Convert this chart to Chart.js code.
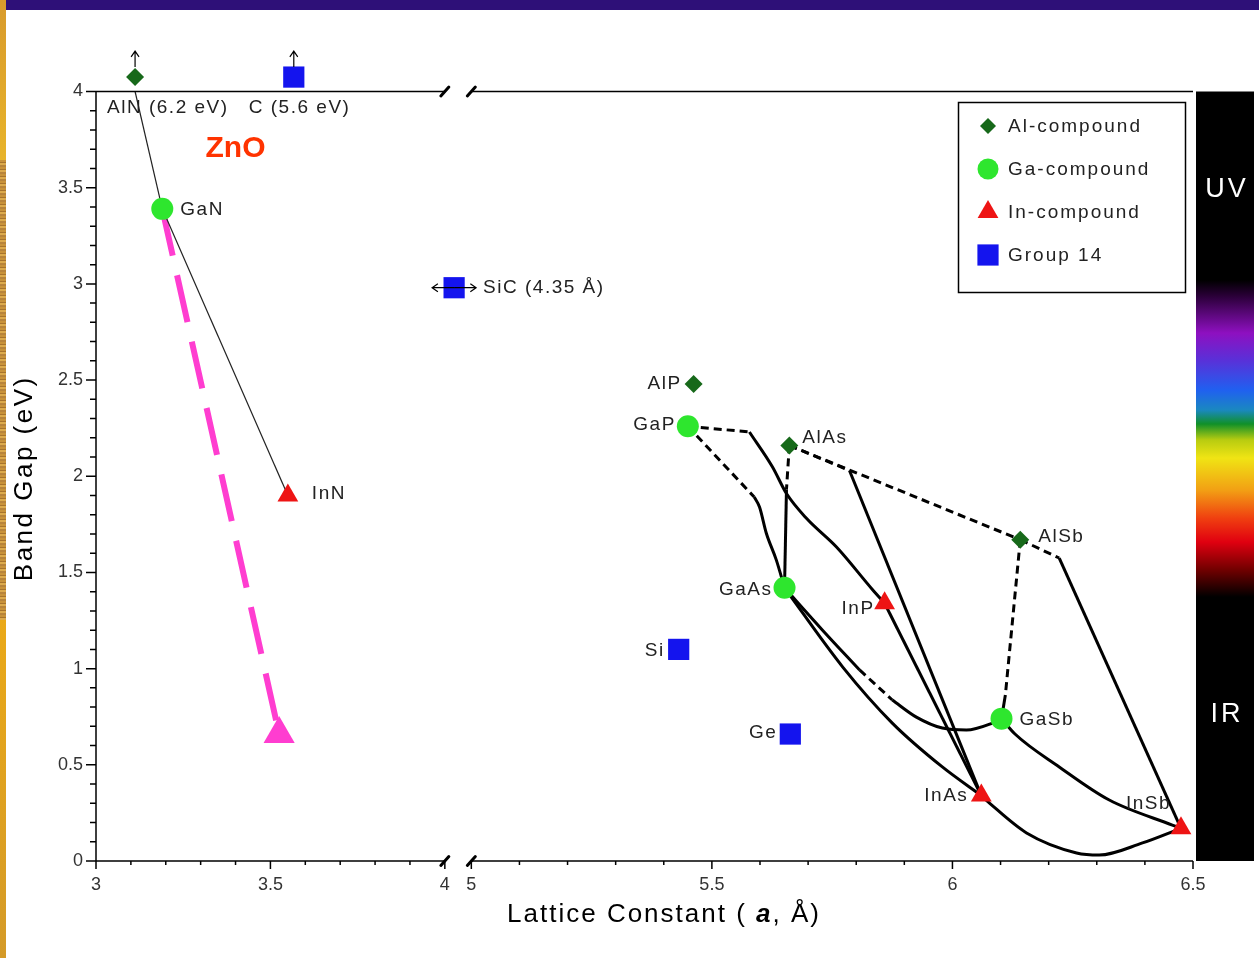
<!DOCTYPE html>
<html lang="en">
<head>
<meta charset="utf-8">
<title>Band gap vs. lattice constant</title>
<script src="https://cdn.jsdelivr.net/npm/chart.js@4.4.1/dist/chart.umd.min.js"></script>
<style>
  html, body { margin: 0; padding: 0; background: #fff; }
  body { position: relative; width: 1259px; height: 958px; overflow: hidden; }
  #chart { position: absolute; left: 0; top: 0; }
  .band { position: absolute; left: 0; top: 0; width: 1259px; height: 10px; background: #2e1078; }
  .strip { position: absolute; left: 0; width: 6px; }
  .strip.top { top: 0; height: 160px; background: linear-gradient(#d89a2c, #e8b42a); }
  .strip.mid { top: 160px; height: 460px;
    background: repeating-linear-gradient(180deg, #c8923a 0 2px, #a8742c 2px 3px, #dcaa4c 3px 5px, #b8843a 5px 7px); }
  .strip.bot { top: 620px; height: 338px; background: linear-gradient(#eaa918, #d49a28); }
</style>
</head>
<body>
<div class="band"></div>
<div class="strip top"></div><div class="strip mid"></div><div class="strip bot"></div>
<canvas id="chart" width="1259" height="958"></canvas>
<script>
// Band gap (eV) against lattice constant (Å): III-V binaries, group 14 solids and alloy tie lines

const Y_MAX = 4;
const OFF_SCALE_Y = Y_MAX + 0.075;   // off-scale gaps sit just above the frame

const xMajorTicks = [3, 3.5, 4, 5, 5.5, 6, 6.5];
const yMajorTicks = [0, 0.5, 1, 1.5, 2, 2.5, 3, 3.5, 4];

// binaries, grouped by cation
const alNames = ['AlN', 'AlP', 'AlAs', 'AlSb'];
const alLattice = [3.112, 5.462, 5.661, 6.141];
const alGap = [6.2, 2.48, 2.16, 1.67];

const gaNames = ['GaN', 'GaP', 'GaAs', 'GaSb'];
const gaLattice = [3.19, 5.45, 5.651, 6.102];
const gaGap = [3.39, 2.26, 1.42, 0.74];

const inNames = ['InN', 'InP', 'InAs', 'InSb'];
const inLattice = [3.55, 5.859, 6.06, 6.475];
const inGap = [1.9, 1.34, 0.34, 0.17];

const g14Names = ['C', 'SiC', 'Si', 'Ge'];
const g14Lattice = [3.567, 4.35, 5.431, 5.663];
const g14Gap = [5.6, 2.98, 1.1, 0.66];

// the pink marker and its dashed tie line from GaN
const highlightLattice = [3.525];
const highlightGap = [0.66];
const highlightNote = 'ZnO';

// alloy tie lines as [lattice, gap] pairs; *Ind = indirect-gap branch (dashed)
const AlGaN = [[3.112, 4.0], [3.19, 3.39]];
const InGaN = [[3.19, 3.39], [3.55, 1.9]];
const highlightTie = [[3.19, 3.39], [3.525, 0.66]];
const GaInPInd = [[5.45, 2.26], [5.578, 2.23]];
const GaInP = [[5.578, 2.23], [5.626, 2.048], [5.655, 1.91], [5.697, 1.78], [5.759, 1.632], [5.834, 1.41], [5.859, 1.34]];
const GaAsPInd = [[5.45, 2.26], [5.588, 1.892]];
const GaAsP = [[5.588, 1.892], [5.599, 1.84], [5.613, 1.705], [5.634, 1.564], [5.651, 1.42]];
const AlGaAsInd = [[5.661, 2.16], [5.655, 1.93]];
const AlGaAs = [[5.655, 1.93], [5.651, 1.42]];
const AlAsSbInd = [[5.661, 2.16], [6.141, 1.67]];
const AlInAsInd = [[5.661, 2.16], [5.786, 2.03]];
const AlInAs = [[5.786, 2.03], [6.06, 0.34]];
const InAsP = [[5.859, 1.34], [6.06, 0.34]];
const InGaAs = [[5.651, 1.42], [5.772, 1.008], [5.875, 0.717], [5.979, 0.489], [6.06, 0.34]];
const GaAsSbA = [[5.651, 1.42], [5.73, 1.2], [5.807, 0.993]];
const GaAsSbInd = [[5.807, 0.993], [5.875, 0.837]];
const GaAsSbB = [[5.875, 0.837], [5.925, 0.748], [5.979, 0.691], [6.029, 0.681], [6.083, 0.717], [6.102, 0.74]];
const AlGaSbInd = [[6.141, 1.67], [6.11, 0.863]];
const AlGaSb = [[6.11, 0.863], [6.102, 0.74]];
const AlInSbInd = [[6.141, 1.67], [6.222, 1.575]];
const AlInSb = [[6.222, 1.575], [6.475, 0.17]];
const GaInSb = [[6.102, 0.74], [6.13, 0.66], [6.222, 0.489], [6.326, 0.317], [6.457, 0.187], [6.475, 0.17]];
const InAsSb = [[6.06, 0.34], [6.077, 0.301], [6.154, 0.146], [6.258, 0.042], [6.305, 0.031], [6.395, 0.094], [6.475, 0.17]];

// ---- styling ----
const FONT = '"Liberation Sans", Arial, Helvetica, sans-serif';
const PINK = '#ff3dd0';

// x axis is broken between 4 and 5 Å; spans are relative widths of each piece
const xPieces = [
  { from: 3, to: 4, span: 349 },
  { from: 4, to: 5, span: 26.5 },
  { from: 5, to: 6.5, span: 722 }
];
const xTickRanges = [[3, 4], [5, 6.5]];

// label offsets from the marker: [dx, dy, align]
const labelPlacement = {
  AlN: [-28, 31, 'left'], C: [-45, 31, 'left'],
  GaN: [18, 1, 'left'], InN: [24, -2, 'left'], SiC: [29, 0, 'left'],
  AlP: [-14, 0, 'right'], GaP: [-14, -1, 'right'],
  AlAs: [13, -8, 'left'], AlSb: [18, -3, 'left'],
  GaAs: [-14, 2, 'right'], InP: [-12, 6, 'right'],
  Si: [-16, 1, 'right'], GaSb: [18, 1, 'left'],
  Ge: [-15, -1, 'right'], InAs: [-15, 0, 'right'],
  InSb: [-12, -25, 'right']
};
const noteAnchor = { x: 3.40, y: 3.70 };

const spectrumStops = [
  [280, '#000000'], [296, '#2a0038'], [333, '#8e10c0'], [360, '#5a30d8'], [390, '#2060f0'],
  [410, '#1a88c0'], [424, '#109028'], [440, '#b8cc10'], [458, '#f0e414'], [490, '#f2a014'],
  [518, '#f04010'], [542, '#e00010'], [570, '#700000'], [597, '#000000']
];

// linear scale with a gap: each piece gets its own share of the axis length
class BrokenLinearScale extends Chart.LinearScale {
  buildTicks() {
    const step = this.options.ticks.stepSize || 0.1;
    const ticks = [];
    xTickRanges.forEach(([lo, hi]) => {
      for (let v = lo; v <= hi + 1e-9; v += step) {
        ticks.push({ value: Math.round(v * 1000) / 1000 });
      }
    });
    this.start = this.min;
    this.end = this.max;
    return ticks;
  }
  _decimalFor(value) {
    const total = xPieces.reduce((s, p) => s + p.span, 0);
    let acc = 0;
    for (let i = 0; i < xPieces.length; i++) {
      const p = xPieces[i];
      if (value <= p.to || i === xPieces.length - 1) {
        return (acc + (value - p.from) / (p.to - p.from) * p.span) / total;
      }
      acc += p.span;
    }
    return 0;
  }
  getPixelForValue(value) {
    if (value === null || isNaN(value)) return NaN;
    return this.getPixelForDecimal(this._decimalFor(value));
  }
  getValueForPixel(pixel) {
    const total = xPieces.reduce((s, p) => s + p.span, 0);
    let pos = this.getDecimalForPixel(pixel) * total;
    for (const p of xPieces) {
      if (pos <= p.span) return p.from + pos / p.span * (p.to - p.from);
      pos -= p.span;
    }
    return this.max;
  }
}
BrokenLinearScale.id = 'brokenLinear';
BrokenLinearScale.defaults = Chart.LinearScale.defaults;
Chart.register(BrokenLinearScale);

const groups = [
  { label: 'Al-compound', names: alNames, lattice: alLattice, gap: alGap, style: 'rectRot', color: '#17691a', radius: 9, legendRadius: 8 },
  { label: 'Ga-compound', names: gaNames, lattice: gaLattice, gap: gaGap, style: 'circle', color: '#2ee62e', radius: 11, legendRadius: 10.5 },
  { label: 'In-compound', names: inNames, lattice: inLattice, gap: inGap, style: 'triangle', color: '#ee1414', radius: 12, legendRadius: 12 },
  { label: 'Group 14', names: g14Names, lattice: g14Lattice, gap: g14Gap, style: 'rect', color: '#1414ee', radius: 15, legendRadius: 15 }
];

const isMajor = (v, list) => list.some(m => Math.abs(m - v) < 1e-6);

// the transparent border only widens the in-area test so markers above the frame still draw
const pointSets = groups.map(g => ({
  type: 'scatter',
  label: g.label,
  data: g.lattice.map((a, i) => ({ x: a, y: Math.min(g.gap[i], OFF_SCALE_Y) })),
  pointStyle: g.style,
  pointRadius: g.radius,
  backgroundColor: g.color,
  borderColor: 'rgba(0,0,0,0)',
  borderWidth: 10,
  clip: false,
  order: 0
}));

pointSets.push({
  type: 'scatter',
  label: highlightNote,
  data: highlightLattice.map((a, i) => ({ x: a, y: highlightGap[i] })),
  pointStyle: 'triangle',
  pointRadius: 18,
  backgroundColor: PINK,
  borderWidth: 0,
  clip: false,
  order: 0
});

function tieLine(pairs, kind) {
  const thin = kind === 'thin';
  return {
    type: 'line',
    data: pairs.map(([x, y]) => ({ x, y })),
    borderColor: kind === 'pink' ? PINK : (thin ? '#222' : '#000'),
    borderWidth: kind === 'pink' ? 6 : (thin ? 1.2 : 3),
    borderDash: kind === 'dash' ? [8, 5] : (kind === 'pink' ? [48, 20] : []),
    pointRadius: 0,
    fill: false,
    cubicInterpolationMode: pairs.length > 2 ? 'monotone' : 'default',
    tension: 0,
    order: 1
  };
}

const lineSets = [
  tieLine(AlGaN, 'thin'), tieLine(InGaN, 'thin'), tieLine(highlightTie, 'pink'),
  tieLine(GaInPInd, 'dash'), tieLine(GaInP, 'solid'),
  tieLine(GaAsPInd, 'dash'), tieLine(GaAsP, 'solid'),
  tieLine(AlGaAsInd, 'dash'), tieLine(AlGaAs, 'solid'),
  tieLine(AlAsSbInd, 'dash'),
  tieLine(AlInAsInd, 'dash'), tieLine(AlInAs, 'solid'),
  tieLine(InAsP, 'solid'), tieLine(InGaAs, 'solid'),
  tieLine(GaAsSbA, 'solid'), tieLine(GaAsSbInd, 'dash'), tieLine(GaAsSbB, 'solid'),
  tieLine(AlGaSbInd, 'dash'), tieLine(AlGaSb, 'solid'),
  tieLine(AlInSbInd, 'dash'), tieLine(AlInSb, 'solid'),
  tieLine(GaInSb, 'solid'), tieLine(InAsSb, 'solid')
];

function drawArrow(ctx, x1, y1, x2, y2) {
  const ang = Math.atan2(y2 - y1, x2 - x1);
  ctx.beginPath();
  ctx.moveTo(x1, y1);
  ctx.lineTo(x2, y2);
  ctx.moveTo(x2 - 7 * Math.cos(ang - 0.6), y2 - 7 * Math.sin(ang - 0.6));
  ctx.lineTo(x2, y2);
  ctx.lineTo(x2 - 7 * Math.cos(ang + 0.6), y2 - 7 * Math.sin(ang + 0.6));
  ctx.stroke();
}

const bandGapDecor = {
  id: 'bandGapDecor',
  afterDatasetsDraw(chart) {
    const { ctx, chartArea: { left, right, top, bottom }, scales: { x, y } } = chart;
    ctx.save();

    // frame with the axis break
    const b0 = x.getPixelForValue(4), b1 = x.getPixelForValue(5);
    ctx.strokeStyle = '#000';
    ctx.lineWidth = 1.5;
    ctx.beginPath();
    [top, bottom].forEach(py => {
      ctx.moveTo(left, py); ctx.lineTo(b0, py);
      ctx.moveTo(b1, py); ctx.lineTo(right, py);
    });
    ctx.moveTo(left, top); ctx.lineTo(left, bottom);
    x.ticks.forEach(t => {
      const px = x.getPixelForValue(t.value);
      ctx.moveTo(px, bottom);
      ctx.lineTo(px, bottom + (isMajor(t.value, xMajorTicks) ? 8 : 4));
    });
    y.ticks.forEach(t => {
      const py = y.getPixelForValue(t.value);
      ctx.moveTo(left, py);
      ctx.lineTo(left - (isMajor(t.value, yMajorTicks) ? 10 : 6), py);
    });
    ctx.stroke();
    ctx.lineWidth = 3;
    ctx.lineCap = 'round';
    ctx.beginPath();
    [top, bottom].forEach(py => {
      [b0, b1].forEach(px => {
        ctx.moveTo(px - 4, py + 4.5);
        ctx.lineTo(px + 4, py - 4.5);
      });
    });
    ctx.stroke();

    // arrows for values beyond the axes
    ctx.lineWidth = 1.2;
    ctx.lineCap = 'butt';
    groups.forEach((g, gi) => {
      const pts = chart.getDatasetMeta(gi).data;
      g.names.forEach((name, i) => {
        const p = pts[i];
        if (g.gap[i] > Y_MAX) drawArrow(ctx, p.x, p.y - 10, p.x, p.y - 26);
        if (g.lattice[i] > 4 && g.lattice[i] < 5) {
          drawArrow(ctx, p.x, p.y, p.x - 22, p.y);
          drawArrow(ctx, p.x, p.y, p.x + 22, p.y);
        }
      });
    });

    // compound names
    ctx.fillStyle = '#222';
    ctx.font = '19px ' + FONT;
    ctx.letterSpacing = '1.5px';
    ctx.textBaseline = 'middle';
    groups.forEach((g, gi) => {
      const pts = chart.getDatasetMeta(gi).data;
      g.names.forEach((name, i) => {
        const [dx, dy, align] = labelPlacement[name];
        let text = name;
        if (g.gap[i] > Y_MAX) text = `${name} (${g.gap[i]} eV)`;
        else if (g.lattice[i] > 4 && g.lattice[i] < 5) text = `${name} (${g.lattice[i]} Å)`;
        ctx.textAlign = align;
        ctx.fillText(text, pts[i].x + dx + (align === 'right' ? 2 : 0), pts[i].y + dy);
      });
    });

    // note next to the GaN corner
    ctx.letterSpacing = '0px';
    ctx.font = 'bold 30px ' + FONT;
    ctx.fillStyle = '#ff3300';
    ctx.textAlign = 'center';
    ctx.fillText(highlightNote, x.getPixelForValue(noteAnchor.x), y.getPixelForValue(noteAnchor.y));

    // legend box
    const lx = 958, ly = 102, lw = 227, lh = 190;
    ctx.fillStyle = '#fff';
    ctx.fillRect(lx, ly, lw, lh);
    ctx.strokeStyle = '#000';
    ctx.lineWidth = 1.5;
    ctx.strokeRect(lx + 0.5, ly + 0.5, lw, lh);
    ctx.font = '19px ' + FONT;
    ctx.letterSpacing = '2px';
    ctx.textAlign = 'left';
    groups.forEach((g, i) => {
      const ry = 126 + i * 43;
      ctx.fillStyle = g.color;
      Chart.helpers.drawPoint(ctx, { pointStyle: g.style, radius: g.legendRadius, rotation: 0, borderWidth: 0 }, 988, ry);
      ctx.fillStyle = '#222';
      ctx.fillText(g.label, 1008, ry + 1);
    });

    // visible-spectrum strip on the right
    const sx = right + 3, sw = 58;
    const grad = ctx.createLinearGradient(0, top, 0, bottom);
    spectrumStops.forEach(([py, c]) => grad.addColorStop((py - top) / (bottom - top), c));
    ctx.fillStyle = grad;
    ctx.fillRect(sx, top, sw, bottom - top);
    ctx.fillStyle = '#fff';
    ctx.font = '27px ' + FONT;
    ctx.letterSpacing = '3px';
    ctx.textAlign = 'center';
    ctx.fillText('UV', sx + sw / 2 + 2, 190);
    ctx.fillText('IR', sx + sw / 2 + 2, 715);

    // axis titles
    ctx.fillStyle = '#000';
    ctx.font = '26px ' + FONT;
    ctx.letterSpacing = '2px';
    const parts = [['Lattice Constant ( ', '26px ' + FONT], ['a', 'italic bold 26px ' + FONT], [', Å)', '26px ' + FONT]];
    const widths = parts.map(([t, f]) => { ctx.font = f; return ctx.measureText(t).width; });
    let tx = 664 - widths.reduce((s, w) => s + w, 0) / 2;
    ctx.textAlign = 'left';
    parts.forEach(([t, f], i) => { ctx.font = f; ctx.fillText(t, tx, 915); tx += widths[i]; });

    ctx.translate(25, (top + bottom) / 2 + 2);
    ctx.rotate(-Math.PI / 2);
    ctx.font = '26px ' + FONT;
    ctx.letterSpacing = '2.5px';
    ctx.textAlign = 'center';
    ctx.fillText('Band Gap (eV)', 0, 0);
    ctx.restore();
  }
};

new Chart(document.getElementById('chart'), {
  type: 'scatter',
  data: { datasets: [...pointSets, ...lineSets] },
  options: {
    responsive: false,
    animation: false,
    devicePixelRatio: 1,
    events: [],
    layout: { padding: { top: 91.5, right: 66, left: 0, bottom: 0 } },
    plugins: { legend: { display: false }, tooltip: { enabled: false } },
    scales: {
      x: {
        type: 'brokenLinear',
        min: 3,
        max: 6.5,
        border: { display: false },
        grid: { display: true, drawOnChartArea: false, drawTicks: true, tickLength: 8, color: 'rgba(0,0,0,0)' },
        ticks: {
          stepSize: 0.1,
          autoSkip: false,
          maxRotation: 0,
          padding: 5,
          color: '#333',
          font: { family: FONT, size: 18 },
          callback: v => isMajor(v, xMajorTicks) ? String(v) : ''
        },
        afterFit: s => { s.height = 97; }
      },
      y: {
        type: 'linear',
        min: 0,
        max: Y_MAX,
        border: { display: false },
        grid: { display: true, drawOnChartArea: false, drawTicks: true, tickLength: 10, color: 'rgba(0,0,0,0)' },
        ticks: {
          stepSize: 0.1,
          autoSkip: false,
          padding: 3,
          color: '#333',
          font: { family: FONT, size: 18 },
          callback: v => isMajor(v, yMajorTicks) ? String(+v.toFixed(1)) : ''
        },
        afterFit: s => { s.width = 96; }
      }
    }
  },
  plugins: [bandGapDecor]
});
</script>
</body>
</html>
